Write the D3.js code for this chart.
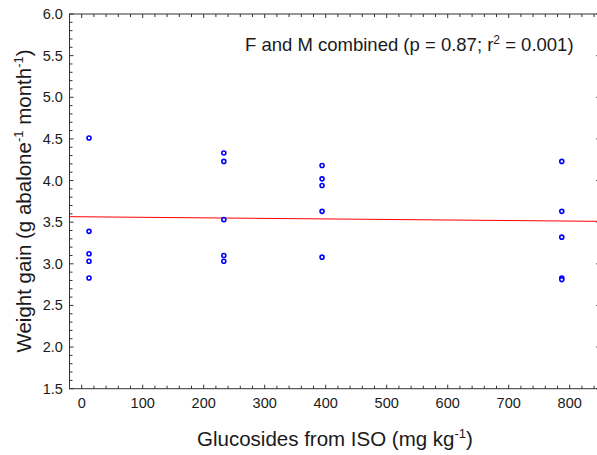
<!DOCTYPE html>
<html><head><meta charset="utf-8">
<script src="https://cdn.jsdelivr.net/npm/d3@7"></script>
<style>body{margin:0;background:#fff}svg{display:block}text{font-family:"Liberation Sans",Arial,sans-serif;fill:#1a1a1a}</style>
</head><body>
<svg id="c" width="597" height="455"></svg>
<script>
const doseX = [12, 12, 12, 12, 12, 233, 233, 233, 233, 233, 394, 394, 394, 394, 394, 787, 787, 787, 787, 787];
const weightGain = [4.51, 3.39, 3.12, 3.03, 2.83, 4.33, 4.23, 3.53, 3.10, 3.03, 4.18, 4.02, 3.94, 3.63, 3.08, 4.23, 3.63, 3.32, 2.83, 2.81];
const fitX = [-20, 850];
const fitY = [3.566, 3.510];
const xTicks = [0, 100, 200, 300, 400, 500, 600, 700, 800];
const yTicks = [1.5, 2.0, 2.5, 3.0, 3.5, 4.0, 4.5, 5.0, 5.5, 6.0];

const svg = d3.select("#c");
const L = 69.5, R = 600.2, T = 14, B = 388.7;
const x = d3.scaleLinear().domain([-20, 850]).range([L, R]);
const y = d3.scaleLinear().domain([1.5, 6.0]).range([B, T]);

const xMinor = d3.range(-20, 851, 20);
const yMinor = d3.range(15, 61, 1).map(d => d / 10);
const axisCol = "#333";
const g = svg.append("g");

g.append("rect").attr("x", L).attr("y", T).attr("width", R - L).attr("height", B - T)
  .attr("fill", "none").attr("stroke", axisCol).attr("stroke-width", 1);

xMinor.forEach(v => {
  const len = xTicks.includes(v) ? 4 : 3;
  g.append("line").attr("x1", x(v)).attr("x2", x(v)).attr("y1", B).attr("y2", B - len).attr("stroke", axisCol);
  g.append("line").attr("x1", x(v)).attr("x2", x(v)).attr("y1", T).attr("y2", T + len).attr("stroke", axisCol);
});
yMinor.forEach(v => {
  const len = yTicks.some(t => Math.abs(t - v) < 1e-6) ? 4 : 3;
  g.append("line").attr("x1", L).attr("x2", L + len).attr("y1", y(v)).attr("y2", y(v)).attr("stroke", axisCol);
  g.append("line").attr("x1", R).attr("x2", R - len).attr("y1", y(v)).attr("y2", y(v)).attr("stroke", axisCol);
});

g.selectAll(".xl").data(xTicks).enter().append("text")
  .attr("x", d => x(d)).attr("y", 407.5).attr("text-anchor", "middle")
  .attr("font-size", 14.5).text(d => d);
g.selectAll(".yl").data(yTicks).enter().append("text")
  .attr("x", 62.8).attr("y", d => y(d) + 5).attr("text-anchor", "end")
  .attr("font-size", 14.5).text(d => d.toFixed(1));

svg.append("line").attr("x1", x(fitX[0])).attr("y1", y(fitY[0]))
  .attr("x2", x(fitX[1])).attr("y2", y(fitY[1]))
  .attr("stroke", "#ff0000").attr("stroke-width", 1);

svg.selectAll("circle").data(doseX.map((d, i) => [d, weightGain[i]])).enter().append("circle")
  .attr("cx", d => x(d[0])).attr("cy", d => y(d[1])).attr("r", 2)
  .attr("fill", "#fff").attr("stroke", "#0000ff").attr("stroke-width", 1.6);

const ann = svg.append("text").attr("x", 245).attr("y", 51).attr("text-anchor", "start").attr("font-size", 18.5);
ann.append("tspan").text("F and M combined (p = 0.87; r");
ann.append("tspan").attr("dy", -7).attr("font-size", 12).text("2");
ann.append("tspan").attr("dy", 7).text(" = 0.001)");

const xt = svg.append("text").attr("x", 335).attr("y", 446).attr("text-anchor", "middle").attr("font-size", 20.5);
xt.append("tspan").text("Glucosides from ISO (mg kg");
xt.append("tspan").attr("dy", -8).attr("font-size", 13).text("-1");
xt.append("tspan").attr("dy", 8).text(")");

const yt = svg.append("text").attr("transform", "translate(31,201) rotate(-90)").attr("text-anchor", "middle").attr("font-size", 20.5);
yt.append("tspan").text("Weight gain (g abalone");
yt.append("tspan").attr("dy", -8).attr("font-size", 13).text("-1");
yt.append("tspan").attr("dy", 8).text(" month");
yt.append("tspan").attr("dy", -8).attr("font-size", 13).text("-1");
yt.append("tspan").attr("dy", 8).text(")");
</script>
</body></html>
